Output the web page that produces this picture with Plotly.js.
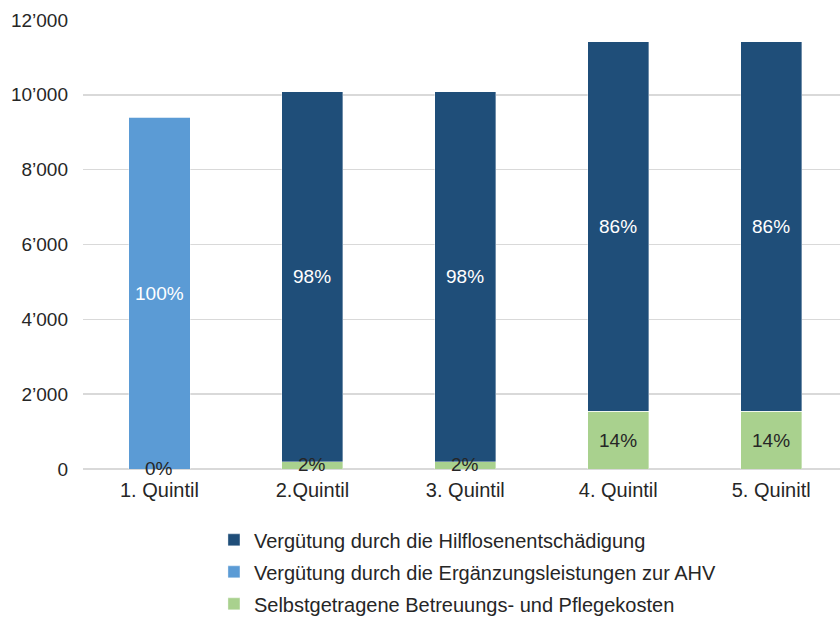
<!DOCTYPE html>
<html>
<head>
<meta charset="utf-8">
<script src="https://cdn.plot.ly/plotly-3.0.1.min.js"></script>
<style>html,body{margin:0;padding:0;background:#fff;}#chart{width:840px;height:618px;}</style>
</head>
<body>
<div id="chart"></div>
<script>
const categories = ["1. Quintil", "2.Quintil", "3. Quintil", "4. Quintil", "5. Quinitl"];
const selbst = [0, 200, 200, 1550, 1550];
const ergaenzung = [9400, 0, 0, 0, 0];
const hilflosen = [0, 9880, 9880, 9870, 9870];
const selbstLabels = ["0%", "2%", "2%", "14%", "14%"];
const ergLabels = ["100%", "", "", "", ""];
const hilfLabels = ["", "98%", "98%", "86%", "86%"];
const yTickVals = [0, 2000, 4000, 6000, 8000, 10000, 12000];
const yTickText = ["0", "2’000", "4’000", "6’000", "8’000", "10’000", "12’000"];

const font = "Liberation Sans, Arial, sans-serif";
const edge = {color: "rgba(255,255,255,0.6)", width: 0.6};

const traces = [
  {type: "bar", name: "Selbstgetragene Betreuungs- und Pflegekosten", x: categories, y: selbst, legendgroup: "c", legendrank: 3,
   marker: {color: "#A9D18E", line: edge}, width: 0.4, hoverinfo: "none"},
  {type: "bar", name: "Vergütung durch die Ergänzungsleistungen zur AHV", x: categories, y: ergaenzung, legendgroup: "b", legendrank: 2,
   marker: {color: "#5B9BD5", line: edge}, width: 0.4, hoverinfo: "none"},
  {type: "bar", name: "Vergütung durch die Hilflosenentschädigung", x: categories, y: hilflosen, legendgroup: "a", legendrank: 1,
   marker: {color: "#1F4E79", line: edge}, width: 0.4, hoverinfo: "none"}
];

const annotations = [];
categories.forEach((c, i) => {
  if (selbstLabels[i]) annotations.push({x: c, y: selbst[i] / 2, text: selbstLabels[i], showarrow: false,
    font: {family: font, size: 19, color: "#262626"}, yshift: selbst[i] < 500 ? 1 : 0});
  let base = selbst[i];
  if (ergLabels[i]) annotations.push({x: c, y: base + ergaenzung[i] / 2, text: ergLabels[i], showarrow: false,
    font: {family: font, size: 19, color: "#FFFFFF"}});
  base += ergaenzung[i];
  if (hilfLabels[i]) annotations.push({x: c, y: base + hilflosen[i] / 2, text: hilfLabels[i], showarrow: false,
    font: {family: font, size: 19, color: "#FFFFFF"}});
});

const layout = {
  width: 840, height: 618,
  margin: {l: 83, r: 0, t: 20, b: 149},
  paper_bgcolor: "#fff", plot_bgcolor: "#fff",
  barmode: "stack",
  showlegend: true,
  font: {family: font, size: 19, color: "#262626"},
  xaxis: {type: "category", range: [-0.5, 4.45], showgrid: false, zeroline: false, showline: false,
    ticks: "", tickfont: {family: font, size: 20, color: "#262626"}, ticklabelstandoff: 7},
  yaxis: {range: [0, 12000], tickvals: yTickVals, ticktext: yTickText, showgrid: true,
    gridcolor: "#D9D9D9", gridwidth: 1.5, zeroline: true, zerolinecolor: "#D9D9D9", zerolinewidth: 1.5,
    showline: false, ticks: "", ticklabelstandoff: 14, tickfont: {family: font, size: 19, color: "#262626"}},
  legend: {orientation: "v", x: 0.173, xanchor: "left", yref: "container", y: 0.158, yanchor: "top",
    traceorder: "grouped", tracegroupgap: 3, font: {family: font, size: 20, color: "#262626"}, itemwidth: 30,
    bgcolor: "rgba(0,0,0,0)"},
  annotations: annotations
};

Plotly.newPlot("chart", traces, layout, {displayModeBar: false, staticPlot: true});
</script>
</body>
</html>
